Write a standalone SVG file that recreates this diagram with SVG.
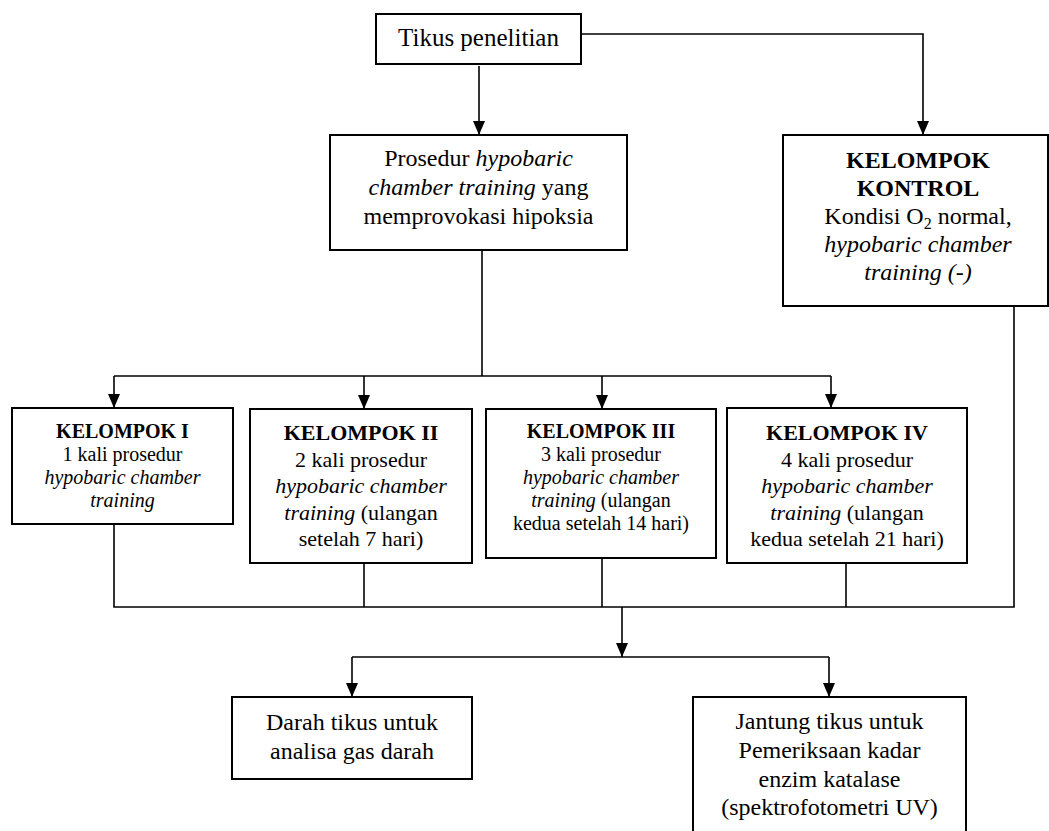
<svg xmlns="http://www.w3.org/2000/svg" width="1049" height="831" viewBox="0 0 1049 831">
<defs>
<style>
.box{fill:#fff;stroke:#000;stroke-width:2}
.ln{fill:none;stroke:#000;stroke-width:1.6}
text{font-family:"Liberation Serif","Times New Roman",serif;fill:#000;text-anchor:middle}
.t25{font-size:25px}
.t24{font-size:24px}
.t22{font-size:22px}
.t20{font-size:20px}
.b{font-weight:bold}
.i{font-style:italic}
</style>
<marker id="ah" viewBox="0 0 12 14" refX="6" refY="14" markerWidth="12" markerHeight="14" markerUnits="userSpaceOnUse" orient="0">
<path d="M0,0 L12,0 L6,14 z" fill="#000"/>
</marker>
</defs>
<rect width="1049" height="831" fill="#fff"/>

<g id="connectors">
<path class="ln" d="M479,66 V135" marker-end="url(#ah)"/>
<path class="ln" d="M581,34 H923 V135" marker-end="url(#ah)"/>
<path class="ln" d="M482,250 V376"/>
<path class="ln" d="M114,376 H831"/>
<path class="ln" d="M114,376 V408" marker-end="url(#ah)"/>
<path class="ln" d="M364,376 V409" marker-end="url(#ah)"/>
<path class="ln" d="M602,376 V409" marker-end="url(#ah)"/>
<path class="ln" d="M831,376 V408" marker-end="url(#ah)"/>
<path class="ln" d="M114,524 V607 H1014 V306"/>
<path class="ln" d="M364,563 V607"/>
<path class="ln" d="M602,558 V607"/>
<path class="ln" d="M846,563 V607"/>
<path class="ln" d="M622,607 V657" marker-end="url(#ah)"/>
<path class="ln" d="M352,657 H829"/>
<path class="ln" d="M352,657 V697" marker-end="url(#ah)"/>
<path class="ln" d="M829,657 V697" marker-end="url(#ah)"/>
</g>

<g id="tikus">
<rect class="box" x="376" y="14" width="205" height="50"/>
<text class="t25" x="478.5" y="46">Tikus penelitian</text>
</g>

<g id="prosedur">
<rect class="box" x="330" y="135" width="297" height="115"/>
<text class="t24" x="478.5" y="166">Prosedur <tspan class="i">hypobaric</tspan></text>
<text class="t24" x="478.5" y="195"><tspan class="i">chamber training</tspan> yang</text>
<text class="t24" x="478.5" y="224">memprovokasi hipoksia</text>
</g>

<g id="kontrol">
<rect class="box" x="783" y="135" width="265" height="171"/>
<text class="t24 b" x="918" y="168">KELOMPOK</text>
<text class="t24 b" x="918" y="196">KONTROL</text>
<text class="t24" x="918" y="224">Kondisi O<tspan font-size="16" dy="5">2</tspan><tspan dy="-5"> normal,</tspan></text>
<text class="t24 i" x="918" y="252">hypobaric chamber</text>
<text class="t24 i" x="918" y="280">training (-)</text>
</g>

<g id="kelompok1">
<rect class="box" x="12" y="408" width="221" height="116"/>
<text class="t20 b" x="122.5" y="438">KELOMPOK I</text>
<text class="t20" x="122.5" y="461">1 kali prosedur</text>
<text class="t20 i" x="122.5" y="484">hypobaric chamber</text>
<text class="t20 i" x="122.5" y="507">training</text>
</g>

<g id="kelompok2">
<rect class="box" x="250" y="409" width="222" height="154"/>
<text class="t22 b" x="361" y="440">KELOMPOK II</text>
<text class="t22" x="361" y="466.5">2 kali prosedur</text>
<text class="t22 i" x="361" y="493">hypobaric chamber</text>
<text class="t22" x="361" y="519.5"><tspan class="i">training</tspan> (ulangan</text>
<text class="t22" x="361" y="546">setelah 7 hari)</text>
</g>

<g id="kelompok3">
<rect class="box" x="486" y="409" width="230" height="149"/>
<text class="t20 b" x="601" y="438">KELOMPOK III</text>
<text class="t20" x="601" y="461">3 kali prosedur</text>
<text class="t20 i" x="601" y="484">hypobaric chamber</text>
<text class="t20" x="601" y="507"><tspan class="i">training</tspan> (ulangan</text>
<text class="t20" x="601" y="530">kedua setelah 14 hari)</text>
</g>

<g id="kelompok4">
<rect class="box" x="727" y="408" width="240" height="155"/>
<text class="t22 b" x="847" y="440">KELOMPOK IV</text>
<text class="t22" x="847" y="466.5">4 kali prosedur</text>
<text class="t22 i" x="847" y="493">hypobaric chamber</text>
<text class="t22" x="847" y="519.5"><tspan class="i">training</tspan> (ulangan</text>
<text class="t22" x="847" y="546">kedua setelah 21 hari)</text>
</g>

<g id="darah">
<rect class="box" x="232" y="697" width="240" height="82"/>
<text class="t24" x="352" y="730">Darah tikus untuk</text>
<text class="t24" x="352" y="759">analisa gas darah</text>
</g>

<g id="jantung">
<rect class="box" x="693" y="697" width="273" height="145"/>
<text class="t24" x="829.5" y="729">Jantung tikus untuk</text>
<text class="t24" x="829.5" y="758">Pemeriksaan kadar</text>
<text class="t24" x="829.5" y="787">enzim katalase</text>
<text class="t24" x="829.5" y="815">(spektrofotometri UV)</text>
</g>
</svg>
